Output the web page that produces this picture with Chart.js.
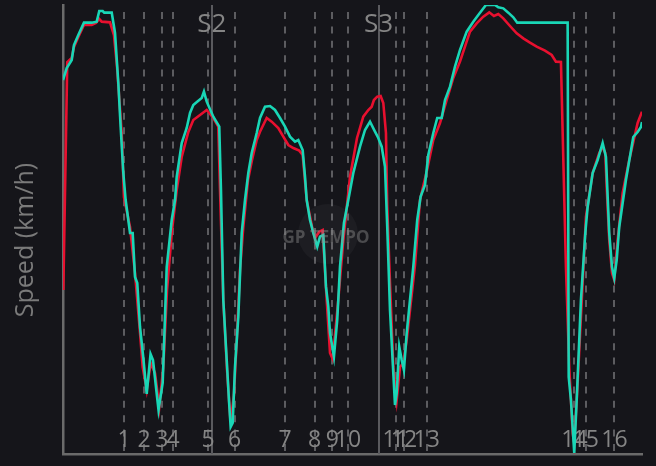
<!DOCTYPE html>
<html>
<head>
<meta charset="utf-8">
<script src="https://cdn.jsdelivr.net/npm/chart.js@4.4.1/dist/chart.umd.min.js"></script>
<style>
  html, body { margin:0; padding:0; background:#15151a; }
  #wrap { width:656px; height:466px; position:relative; }
</style>
</head>
<body>
<div id="wrap"><canvas id="chart-speed"></canvas></div>
<script>
// lap distance (m) and speed (km/h)
const tealDist = [0,35,82,103,144,197,270,317,341,373,388,458,489,520,542,567,589,630,655,677,698,724,755,787,823,846,898,937,975,1022,1053,1069,1116,1163,1194,1225,1250,1304,1325,1351,1413,1469,1485,1507,1539,1560,1576,1595,1617,1648,1680,1711,1742,1774,1821,1852,1899,1946,1993,2040,2087,2134,2181,2212,2253,2275,2291,2322,2353,2390,2416,2447,2472,2494,2510,2547,2578,2604,2641,2682,2729,2792,2839,2886,2933,2964,2996,3027,3048,3074,3105,3121,3137,3161,3184,3205,3231,3293,3330,3362,3403,3434,3481,3518,3560,3591,3638,3685,3732,3795,3857,3904,3976,4061,4092,4139,4186,4233,4270,4744,4754,4775,4806,4829,4869,4910,4932,4979,5026,5073,5104,5135,5161,5182,5205,5229,5292,5361,5402,5433,5443];
const tealSpeed = [284.4,291.6,296.4,305.4,311.4,318.8,318.8,319.4,325.8,325.8,324.8,324.8,312.6,282.6,256.2,228.6,212.4,192.6,192.6,166.2,162.6,136.2,117.6,96,120,116.4,86.4,102.6,172.2,200.4,212.4,226.2,246.6,255.6,264.6,269.4,270.8,273.6,277.4,271.4,262.4,256.4,218.4,152.4,116.4,92.4,76.2,78.6,112.2,142.2,192.6,212.4,228.6,240.6,252.6,261.6,268.4,268.8,266.4,261.6,256.4,250.4,247.4,248.4,242.4,226.4,212.4,200.4,192.6,184.4,190.4,191.4,160.4,148.4,132.6,118.4,140.4,172.4,198.6,212.4,228.6,244.4,254.4,259.4,253.4,249.6,244.4,232.4,196.4,146.4,108.6,89.4,96.6,124.4,116.4,110.4,132.6,172.4,200.4,214.4,221.4,239.4,252.6,261.6,261.6,272.4,280.4,292.4,302.4,313.4,319.4,323.4,329.4,329.4,328,327.4,324.8,322,318.8,318.8,106.2,92.4,60.6,92.4,152.4,192.6,208.2,228.6,236.4,246.6,238.2,192.6,172.2,165.6,176.4,196.2,224.4,250.2,253.2,256.2,259.2];

const redDist = [3,40,82,103,144,197,270,310,341,364,442,479,508,552,573,630,677,724,749,787,824,865,905,943,978,1025,1069,1116,1178,1225,1288,1351,1413,1460,1476,1507,1542,1575,1607,1638,1664,1695,1739,1777,1821,1852,1915,1962,2024,2071,2118,2165,2221,2253,2291,2347,2369,2409,2441,2479,2510,2535,2588,2635,2698,2764,2823,2870,2902,2923,2954,2986,3011,3036,3048,3074,3105,3137,3168,3199,3231,3309,3356,3419,3481,3544,3607,3669,3732,3779,3826,3889,3951,4007,4051,4092,4139,4202,4265,4327,4390,4453,4531,4594,4634,4681,4728,4759,4791,4806,4838,4885,4916,4979,5041,5073,5098,5111,5135,5161,5182,5214,5261,5323,5402,5443];
const redSpeed = [158.4,295.2,297.6,304.2,310.2,317.4,317.4,318.6,321,319.4,319,311.4,292.2,252.6,214.2,196.2,168.6,132.6,112.2,98.4,114.6,108.6,88.2,112.2,158.4,194.4,218.4,238.2,253.2,260.4,263.4,266.4,261.6,256.4,218.4,152.4,110.4,79.2,95.4,134.4,170.4,196.2,224.4,236.4,248.4,253.4,261.6,259.4,255.6,250.4,245.4,243.6,242,239.4,212.4,194.4,189.6,193.4,194.4,152.4,120.6,117,152.4,188.4,226.4,249.6,262.4,266.4,268.4,272.4,274.4,274.8,270.6,252.6,208.4,162.6,112.2,92.4,112.2,114.6,128.4,173.4,212.4,229.4,248.4,258.6,272.4,285.6,295.4,304.4,313.4,318.4,322.4,325,322.8,324,321.4,316.8,312.4,309.4,306.8,304.4,302,299.4,295.4,295.2,172.2,112.2,72.6,66.6,102.6,162.6,202.2,228.6,240.6,244.2,240.6,220.2,188.4,168.6,164.4,188.4,216.6,236.4,258.6,265.4];

const cornerLabels = ['1','2','3','4','5','6','7','8','9','10','11','12','13','14','15','16'];
const cornerDist = [573,761,928,1034,1363,1614,2087,2366,2533,2679,3128,3205,3419,4808,4914,5184];
const sectorLabels = ['S2','S3'];
const sectorDist = [1398,2966];

const LAP_LEN = 5443;
const GRID = '#5c5c60', TXT = '#858585';

const markers = {
  id:'markers',
  beforeDatasetsDraw(chart){
    const {ctx, chartArea:a, scales:{x}} = chart;
    ctx.save();
    ctx.strokeStyle = GRID;
    ctx.lineWidth = 2;
    ctx.setLineDash([7,7.4]);
    cornerDist.forEach(d => {
      const px = Math.round(x.getPixelForValue(d));
      ctx.beginPath(); ctx.moveTo(px, 12); ctx.lineTo(px, a.bottom); ctx.stroke();
    });
    ctx.setLineDash([]);
    ctx.strokeStyle = '#5a5a5e';
    sectorDist.forEach(d => {
      const px = Math.round(x.getPixelForValue(d));
      ctx.beginPath(); ctx.moveTo(px, a.top); ctx.lineTo(px, a.bottom); ctx.stroke();
    });
    ctx.fillStyle = TXT;
    ctx.textAlign = 'center';
    ctx.textBaseline = 'alphabetic';
    ctx.font = "23px 'Open Sans'";
    cornerLabels.forEach((t,i) => ctx.fillText(t, x.getPixelForValue(cornerDist[i]), 447));
    ctx.font = "26px 'Open Sans'";
    sectorLabels.forEach((t,i) => ctx.fillText(t, x.getPixelForValue(sectorDist[i]), 32));
    // y title
    ctx.translate(26, 240);
    ctx.rotate(-Math.PI/2);
    ctx.textBaseline = 'middle';
    ctx.font = "25px 'Open Sans'";
    ctx.fillStyle = '#7a7a7a';
    ctx.fillText('Speed (km/h)', 0, 0);
    ctx.restore();
  },
  afterDatasetsDraw(chart){
    const {ctx} = chart;
    ctx.save();
    ctx.fillStyle = 'rgba(255,255,255,0.035)';
    ctx.beginPath(); ctx.arc(328, 234, 30, 0, Math.PI*2); ctx.fill();
    ctx.fillStyle = 'rgba(140,140,140,0.45)';
    ctx.font = "bold 17px 'Open Sans'";
    ctx.textAlign = 'center';
    ctx.textBaseline = 'middle';
    ctx.fillText('GP TEMPO', 326, 238);
    ctx.restore();
  }
};

const toPts = (xs, ys) => xs.map((d,i) => ({x:d, y:ys[i]}));

new Chart(document.getElementById('chart-speed'), {
  type:'line',
  data:{
    datasets:[
      { data: toPts(tealDist, tealSpeed), borderColor:'#19d6b6', borderWidth:2.6, pointRadius:0, tension:0 },
      { data: toPts(redDist, redSpeed), borderColor:'#e8102f', borderWidth:2.6, pointRadius:0, tension:0 },
    ]
  },
  options:{
    responsive:true, maintainAspectRatio:false, animation:false,
    layout:{ padding:{ top:5, right:14, left:0, bottom:0 } },
    plugins:{ legend:{ display:false }, tooltip:{ enabled:false } },
    scales:{
      x:{ type:'linear', min:0, max:LAP_LEN, grid:{ display:false }, ticks:{ display:false },
          border:{ color:'#6a6a6a', width:2.5 }, afterFit: s => { s.height = 12; } },
      y:{ min:60, max:329.4, grid:{ display:false }, ticks:{ display:false },
          border:{ color:'#6a6a6a', width:2.5 }, afterFit: s => { s.width = 63; } }
    }
  },
  plugins:[markers]
});
</script>
</body>
</html>
